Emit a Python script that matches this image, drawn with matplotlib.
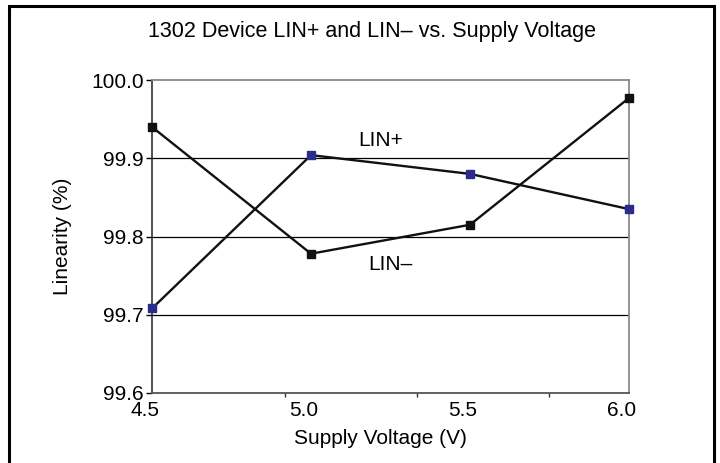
import matplotlib
matplotlib.use("Agg")
import matplotlib.pyplot as plt
import matplotlib.transforms as mtransforms
from matplotlib.patches import Rectangle

# data
voltage = [4.5, 5.0, 5.5, 6.0]
lin_plus = [99.708, 99.904, 99.880, 99.835]
lin_minus = [99.940, 99.778, 99.815, 99.977]

x_labels = ["4.5", "5.0", "5.5", "6.0"]
x_minor = [4.917, 5.333, 5.75]
y_ticks = [99.6, 99.7, 99.8, 99.9, 100.0]

plt.rcParams["font.family"] = ["Liberation Sans", "DejaVu Sans"]

fig = plt.figure(figsize=(7.2, 4.63), dpi=100)
ax = fig.add_axes([0.2111, 0.1512, 0.6625, 0.676])

# outer frame (bottom runs off the picture)
frame = Rectangle((9 / 720, -0.05), 705 / 720, 1 - 6 / 463 + 0.05,
                  transform=fig.transFigure, fill=False, lw=2.2,
                  edgecolor="black", clip_on=False)
fig.patches.append(frame)

# grid lines
for y in [99.7, 99.8, 99.9]:
    ax.axhline(y, color="black", lw=0.9, zorder=1)

ax.plot(voltage, lin_minus, color="#111111", lw=1.7, marker="s", ms=5.3,
        markerfacecolor="#111111", markeredgecolor="#111111", zorder=3,
        clip_on=False)
ax.plot(voltage, lin_plus, color="#111111", lw=1.7, zorder=3, clip_on=False)
ax.plot(voltage, lin_plus, ls="none", marker="s", ms=5.3,
        markerfacecolor="#2b2b8c", markeredgecolor="#2b2b8c", zorder=4,
        clip_on=False)

ax.set_xlim(4.5, 6.0)
ax.set_ylim(99.6, 100.0)

ax.set_yticks(y_ticks)
ax.set_yticklabels([f"{v:.1f}" for v in y_ticks], fontsize=15)
ax.tick_params(axis="y", direction="out", length=4, width=1, pad=2, colors="black")

ax.set_xticks(voltage)
ax.set_xticklabels(x_labels, fontsize=15)
ax.tick_params(axis="x", length=0, pad=6)
offset = mtransforms.ScaledTranslation(-7 / 100, 0, fig.dpi_scale_trans)
for lab in ax.get_xticklabels():
    lab.set_transform(lab.get_transform() + offset)
ax.set_xticks(x_minor, minor=True)
ax.tick_params(axis="x", which="minor", direction="out", length=3, width=1,
               color="#333333")

ax.spines["left"].set_color("#222222")
ax.spines["left"].set_linewidth(1.1)
ax.spines["bottom"].set_color("#555555")
ax.spines["bottom"].set_linewidth(1.3)
ax.spines["top"].set_color("#8a8a8a")
ax.spines["top"].set_linewidth(1.3)
ax.spines["right"].set_color("#8a8a8a")
ax.spines["right"].set_linewidth(1.3)

fig.text(372 / 720, 1 - 32 / 463, "1302 Device LIN+ and LIN\u2013 vs. Supply Voltage",
         ha="center", va="center", fontsize=15.5)
fig.text(380 / 720, 1 - 438 / 463, "Supply Voltage (V)", ha="center",
         va="center", fontsize=15)
fig.text(63 / 720, 1 - 236 / 463, "Linearity (%)", ha="center", va="center",
         rotation=90, fontsize=15)

ax.text(5.149, 99.923, "LIN+", ha="left", va="center", fontsize=15)
ax.text(5.18, 99.764, "LIN\u2013", ha="left", va="center", fontsize=15)

fig.savefig("out.png", dpi=100)
